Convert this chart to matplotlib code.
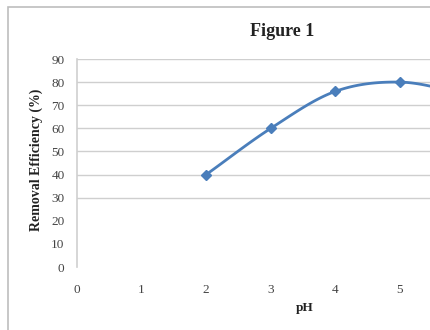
import numpy as np
import matplotlib.pyplot as plt
from matplotlib.patches import Rectangle

# pH vs removal efficiency
ph = [2, 3, 4, 5, 6]
efficiency = [40, 60, 76, 80, 75]
x_ticks = [0, 1, 2, 3, 4, 5]
y_ticks = [0, 10, 20, 30, 40, 50, 60, 70, 80, 90]
grid_levels = [30, 40, 50, 60, 70, 80, 90]


def smooth(xs, ys, n=30):
    # Catmull-Rom curve through the points, like a smoothed spreadsheet line
    xs = np.asarray(xs, float)
    ys = np.asarray(ys, float)
    px = np.concatenate([[2 * xs[0] - xs[1]], xs, [2 * xs[-1] - xs[-2]]])
    py = np.concatenate([[2 * ys[0] - ys[1]], ys, [2 * ys[-1] - ys[-2]]])
    out_x, out_y = [], []
    t = np.linspace(0, 1, n)
    for i in range(1, len(px) - 2):
        for p, out in ((px, out_x), (py, out_y)):
            p0, p1, p2, p3 = p[i - 1], p[i], p[i + 1], p[i + 2]
            out.extend(0.5 * (2 * p1 + (-p0 + p2) * t
                              + (2 * p0 - 5 * p1 + 4 * p2 - p3) * t ** 2
                              + (-p0 + 3 * p1 - 3 * p2 + p3) * t ** 3))
    return out_x, out_y


plt.rcParams['font.family'] = ['Liberation Serif', 'DejaVu Serif']

fig = plt.figure(figsize=(4.3, 3.3), dpi=100)
fig.patches.append(Rectangle((8 / 430, -0.1), 1.2, 1.1 - 7 / 330,
                             transform=fig.transFigure, fill=False,
                             edgecolor='#bdbdbd', linewidth=1.2))

ax = fig.add_axes([77 / 430, 63 / 330, 1 - 77 / 430, 208 / 330])
for y in grid_levels:
    ax.axhline(y, color='#cfcfcf', linewidth=1.0, zorder=0)

sx, sy = smooth(ph, efficiency)
ax.plot(sx, sy, color='#4a7ebb', linewidth=2.0)
ax.plot(ph, efficiency, linestyle='none', marker='D', markersize=5.5,
        color='#4a7ebb')

ax.set_xlim(0, (430 - 77) / 64.6)
ax.set_ylim(0, 90)
ax.set_xticks(x_ticks)
ax.set_yticks(y_ticks)
ax.tick_params(length=0, labelsize=9.5, labelcolor='#444444')
ax.tick_params(axis='x', pad=12)
ax.tick_params(axis='y', pad=9)
for s in ['top', 'right', 'bottom']:
    ax.spines[s].set_visible(False)
ax.spines['left'].set_color('#cfcfcf')
ax.spines['left'].set_linewidth(1.2)

fig.text(282 / 430, 1 - 31 / 330, 'Figure 1', ha='center', va='center',
         fontsize=13, fontweight='bold', color='#222222')
fig.text(36 / 430, 1 - 160 / 330, 'Removal Efficiency (%)', ha='center',
         va='center', rotation=90, fontsize=10, fontweight='bold',
         color='#222222')
fig.text(305 / 430, 1 - 308 / 330, 'pH', ha='center', va='center',
         fontsize=9.5, fontweight='bold', color='#222222')

fig.savefig('out.png', dpi=100)
